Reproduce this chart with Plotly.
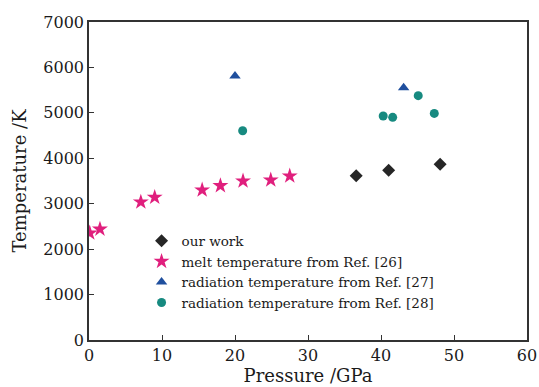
import plotly.graph_objects as go

our_p = [36.6, 41.05, 48.1]
our_t = [3617, 3735, 3867]
melt_p = [0.1, 1.5, 7.1, 9.0, 15.5, 18.0, 21.1, 24.9, 27.5]
melt_t = [2355, 2440, 3037, 3141, 3302, 3397, 3500, 3522, 3610]
rad27_p = [20.0, 43.1]
rad27_t = [5811, 5554]
rad28_p = [21.05, 40.3, 41.6, 45.1, 47.3]
rad28_t = [4607, 4931, 4902, 5378, 4988]

font_family = "DejaVu Serif"

fig = go.Figure()
fig.add_trace(go.Scatter(x=our_p, y=our_t, mode="markers", name="our work",
                         marker=dict(symbol="diamond", size=10, color="#262626")))
fig.add_trace(go.Scatter(x=melt_p, y=melt_t, mode="markers", name="melt temperature from Ref. [26]",
                         marker=dict(symbol="star", size=12, color="#e01f7d")))
fig.add_trace(go.Scatter(x=rad27_p, y=rad27_t, mode="markers", name="radiation temperature from Ref. [27]",
                         marker=dict(symbol="triangle-up", size=10, color="#1f4f9e")))
fig.add_trace(go.Scatter(x=rad28_p, y=rad28_t, mode="markers", name="radiation temperature from Ref. [28]",
                         marker=dict(symbol="circle", size=9, color="#178a80")))

axis_common = dict(showline=True, linecolor="#333333", linewidth=1.5, mirror=True,
                   ticks="inside", ticklen=5, tickcolor="#333333", showgrid=False,
                   zeroline=False, automargin=False,
                   tickfont=dict(family=font_family, size=16, color="#1a1a1a"))

fig.update_xaxes(range=[0, 60], dtick=10, title=dict(text="Pressure /GPa", standoff=4,
                 font=dict(family=font_family, size=18, color="#1a1a1a")), **axis_common)
fig.update_yaxes(range=[0, 7000], dtick=1000, title=dict(text="Temperature /K", standoff=12,
                 font=dict(family=font_family, size=18, color="#1a1a1a")), **axis_common)

fig.update_layout(
    width=539, height=387,
    margin=dict(l=89, r=12, t=22, b=47),
    paper_bgcolor="white", plot_bgcolor="white",
    showlegend=True,
    legend=dict(x=0.12, y=0.36, xanchor="left", yanchor="top",
                bgcolor="rgba(0,0,0,0)", font=dict(family=font_family, size=13.5, color="#1a1a1a"),
                itemwidth=30, tracegroupgap=2.5),
)

fig.write_html("out.html")
